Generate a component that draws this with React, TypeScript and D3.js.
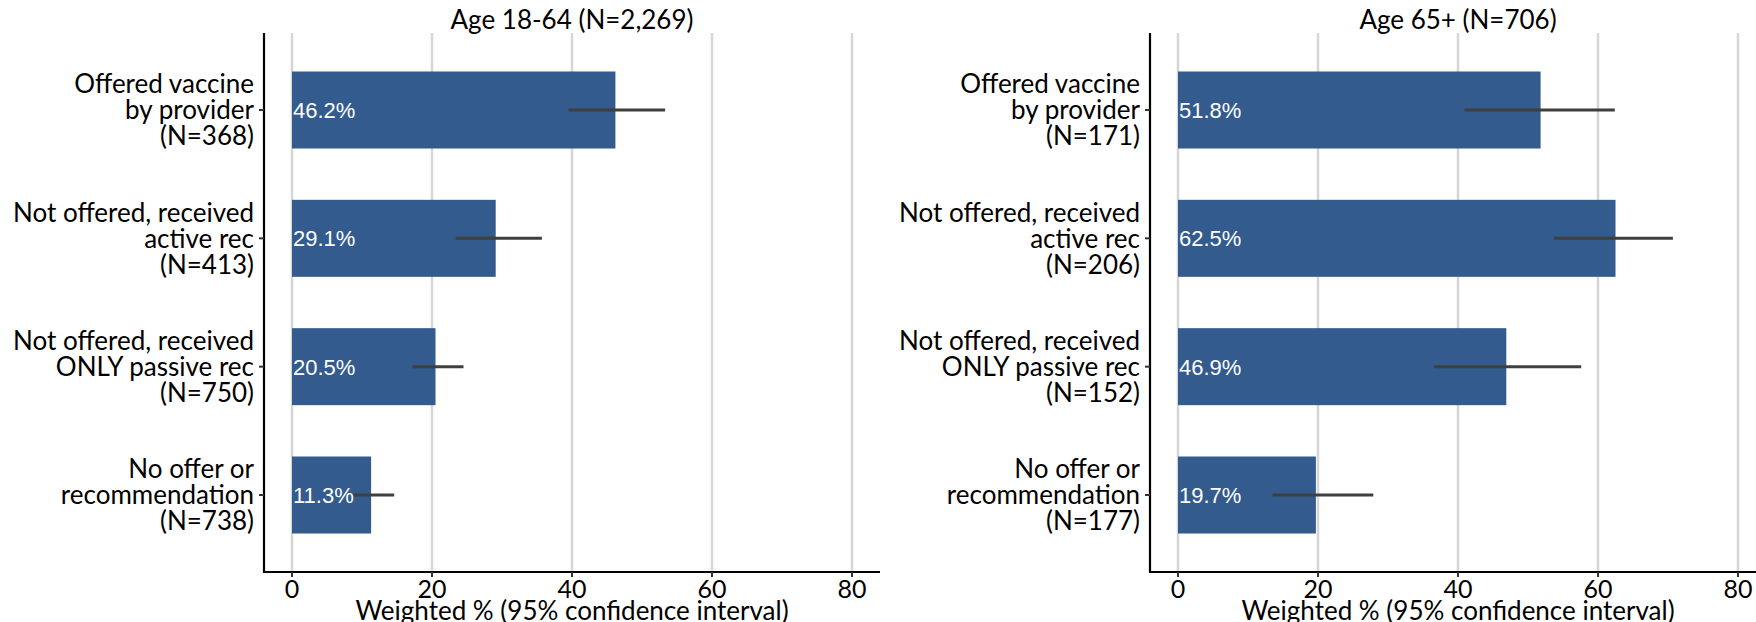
import React from "react";
import * as d3 from "d3";

const categories = [
  "Offered vaccine\nby provider",
  "Not offered, received\nactive rec",
  "Not offered, received\nONLY passive rec",
  "No offer or\nrecommendation",
];

const panelTitles = ["Age 18-64 (N=2,269)", "Age 65+ (N=706)"];
const youngN = [368, 413, 750, 738];
const youngPct = [46.2, 29.1, 20.5, 11.3];
const youngLo = [39.5, 23.4, 17.2, 8.8];
const youngHi = [53.3, 35.7, 24.5, 14.6];
const oldN = [171, 206, 152, 177];
const oldPct = [51.8, 62.5, 46.9, 19.7];
const oldLo = [40.9, 53.7, 36.6, 13.5];
const oldHi = [62.4, 70.7, 57.6, 27.9];
const xTicks = [0, 20, 40, 60, 80];
const xTitle = "Weighted % (95% confidence interval)";

const W = 1756;
const H = 622;
const TOP = 33;
const BOTTOM = 572;
const LABEL_FONT = "Lato, 'Liberation Sans', Arial, sans-serif";
const VALUE_FONT = "'Liberation Sans', Arial, sans-serif";
const BAR = "#335b8e";

function Panel({ x0, title, n, pct, lo, hi }: { x0: number; title: string; n: number[]; pct: number[]; lo: number[]; hi: number[] }) {
  const x = d3.scaleLinear().domain([-4, 84]).range([x0, x0 + 616]);
  const step = (BOTTOM - TOP) / 4.2;
  const yPos = d3.scaleLinear().domain([0, 3]).range([TOP + 0.6 * step, TOP + 3.6 * step]);
  const centerY = (i: number) => yPos(i);
  const bh = step * 0.6;
  return (
    <g>
      {xTicks.map((t) => (
        <line key={"g" + t} x1={x(t)} x2={x(t)} y1={TOP} y2={BOTTOM} stroke="#d6d6d6" strokeWidth={2.5} />
      ))}
      {categories.map((c, i) => (
        <rect key={"b" + i} x={x(0)} y={centerY(i) - bh / 2} width={x(pct[i]) - x(0)} height={bh} fill={BAR} />
      ))}
      {categories.map((c, i) => (
        <line key={"e" + i} x1={x(lo[i])} x2={x(hi[i])} y1={centerY(i)} y2={centerY(i)} stroke="#3f3f3f" strokeWidth={3} />
      ))}
      {categories.map((c, i) => (
        <text key={"v" + i} x={x(0) + 1} y={centerY(i)} dy="0.36em" fill="#ffffff" fontFamily={VALUE_FONT} fontSize={22}>
          {pct[i].toFixed(1) + "%"}
        </text>
      ))}
      <line x1={x0} x2={x0} y1={TOP} y2={BOTTOM + 1} stroke="#000" strokeWidth={2.2} />
      <line x1={x0 - 1} x2={x0 + 616} y1={BOTTOM} y2={BOTTOM} stroke="#000" strokeWidth={2.2} />
      {categories.map((c, i) => (
        <line key={"yt" + i} x1={x0 - 5} x2={x0} y1={centerY(i)} y2={centerY(i)} stroke="#333" strokeWidth={2} />
      ))}
      {categories.map((c, i) => {
        const lines = [...c.split("\n"), "(N=" + n[i] + ")"];
        return (
          <text key={"yl" + i} x={x0 - 10} y={centerY(i) - 26} textAnchor="end" fontFamily={LABEL_FONT} fontSize={26} fill="#000">
            {lines.map((l, j) => (
              <tspan key={j} x={x0 - 10} y={centerY(i) + (j - 1) * 26} dy="0.36em">
                {l}
              </tspan>
            ))}
          </text>
        );
      })}
      {xTicks.map((t) => (
        <g key={"xt" + t}>
          <line x1={x(t)} x2={x(t)} y1={BOTTOM} y2={BOTTOM + 5} stroke="#333" strokeWidth={2} />
          <text x={x(t)} y={BOTTOM + 17} dy="0.36em" textAnchor="middle" fontFamily={LABEL_FONT} fontSize={25} fill="#000">
            {t}
          </text>
        </g>
      ))}
      <text x={x0 + 308} y={20} dy="0.36em" textAnchor="middle" fontFamily={LABEL_FONT} fontSize={26} fill="#000">
        {title}
      </text>
      <text x={x0 + 308} y={611} dy="0.36em" textAnchor="middle" fontFamily={LABEL_FONT} fontSize={26} fill="#000">
        {xTitle}
      </text>
    </g>
  );
}

export default function App() {
  return (
    <svg width={W} height={H} style={{ position: "absolute", left: 0, top: 0, background: "#fff" }}>
      <rect x={0} y={0} width={W} height={H} fill="#fff" />
      <Panel x0={264} title={panelTitles[0]} n={youngN} pct={youngPct} lo={youngLo} hi={youngHi} />
      <Panel x0={1150} title={panelTitles[1]} n={oldN} pct={oldPct} lo={oldLo} hi={oldHi} />
    </svg>
  );
}
